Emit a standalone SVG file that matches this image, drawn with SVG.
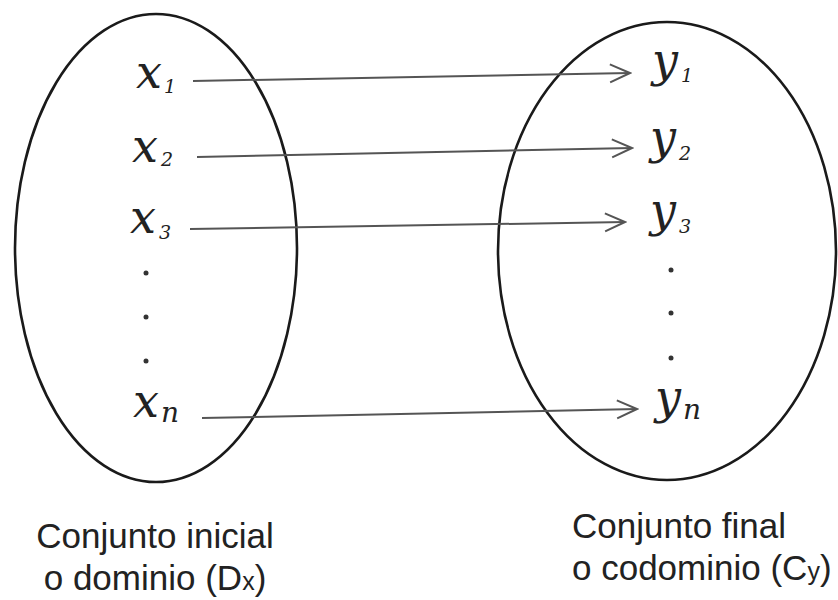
<svg xmlns="http://www.w3.org/2000/svg" width="838" height="600" viewBox="0 0 838 600">
<style>
.set{fill:none;stroke:#1a1a1a;stroke-width:2.6}
.arr{stroke:#555;stroke-width:2;fill:none;marker-end:url(#ah)}
.m{font-family:"DejaVu Serif","Liberation Serif",serif;font-style:italic;fill:#222;font-size:46px}
.s{font-family:"DejaVu Serif","Liberation Serif",serif;font-style:italic;fill:#222;font-size:19px}
.sn{font-family:"DejaVu Serif","Liberation Serif",serif;font-style:italic;fill:#222;font-size:28px}
.lab{font-family:"Liberation Sans",Arial,sans-serif;fill:#222;font-size:35px}
.dot{fill:#333}
</style>
<defs>
<marker id="ah" viewBox="0 0 24 24" refX="22" refY="12" markerWidth="24" markerHeight="24" markerUnits="userSpaceOnUse" orient="auto">
<path d="M2,3 L22,12 L2,21" fill="none" stroke="#555" stroke-width="2"/>
</marker>
</defs>
<g id="domain">
<ellipse class="set" cx="156" cy="248" rx="141" ry="234"/>
<text class="m" x="136" y="88">x</text><text class="s" x="164" y="93">1</text>
<text class="m" x="132" y="162">x</text><text class="s" x="161" y="166">2</text>
<text class="m" x="130" y="233">x</text><text class="s" x="159" y="239">3</text>
<circle class="dot" cx="146" cy="273" r="2.5"/>
<circle class="dot" cx="146" cy="317" r="2.5"/>
<circle class="dot" cx="146" cy="361" r="2.5"/>
<text class="m" x="133" y="417">x</text><text class="sn" x="161" y="422">n</text>
<text class="lab" x="155" y="548" text-anchor="middle">Conjunto inicial</text>
<text class="lab" x="155" y="590" text-anchor="middle">o dominio (D<tspan font-size="25px">x</tspan>)</text>
</g>
<g id="codomain">
<ellipse class="set" cx="667" cy="251" rx="169" ry="229"/>
<text class="m" x="652" y="76">y</text><text class="s" x="681" y="82">1</text>
<text class="m" x="650" y="153">y</text><text class="s" x="679" y="160">2</text>
<text class="m" x="650" y="226">y</text><text class="s" x="679" y="233">3</text>
<circle class="dot" cx="671" cy="270" r="2.5"/>
<circle class="dot" cx="671" cy="313" r="2.5"/>
<circle class="dot" cx="671" cy="358" r="2.5"/>
<text class="m" x="655" y="413">y</text><text class="sn" x="683" y="419">n</text>
<text class="lab" x="572" y="538">Conjunto final</text>
<text class="lab" x="572" y="580">o codominio (C<tspan font-size="25px">y</tspan>)</text>
</g>
<g id="connectors">
<line class="arr" x1="193" y1="81" x2="630" y2="73"/>
<line class="arr" x1="197" y1="157" x2="632" y2="148"/>
<line class="arr" x1="190" y1="229" x2="625" y2="222"/>
<line class="arr" x1="202" y1="418" x2="637" y2="409"/>
</g>
</svg>
